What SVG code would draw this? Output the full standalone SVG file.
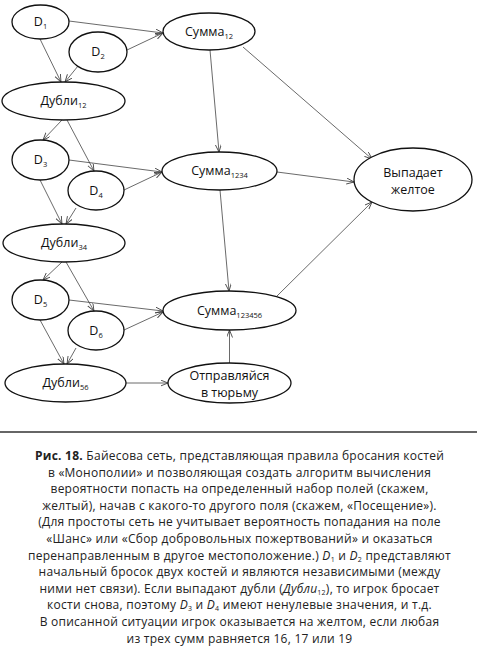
<svg xmlns="http://www.w3.org/2000/svg" width="477" height="648" viewBox="0 0 477 648">
<style>
.n{fill:#fff;stroke:#111;stroke-width:1.3}
.t{font-family:"Open Sans","Liberation Sans",sans-serif;font-size:12.5px;fill:#111;text-anchor:middle}
.s{font-size:7.5px}
.e{stroke:#444;stroke-width:0.8;fill:none;marker-end:url(#a)}
.c{font-family:"Open Sans","Noto Sans",sans-serif;font-size:12px;fill:#222;text-anchor:middle;letter-spacing:0.25px}
.cs{font-size:7px}
</style>
<defs>
<marker id="a" markerWidth="10" markerHeight="8" refX="7.5" refY="3" orient="auto" markerUnits="userSpaceOnUse">
<path d="M0,0 L7.5,3 L0,6" fill="none" stroke="#444" stroke-width="0.9"/>
</marker>
</defs>
<rect width="477" height="648" fill="#fff"/>
<g id="connectors">
<line class="e" x1="69" y1="21" x2="163" y2="33"/>
<line class="e" x1="127" y1="50" x2="163" y2="33"/>
<line class="e" x1="40" y1="39" x2="61" y2="82"/>
<line class="e" x1="78" y1="66" x2="65" y2="82"/>
<line class="e" x1="62" y1="120" x2="43" y2="140"/>
<line class="e" x1="67" y1="120" x2="94" y2="171"/>
<line class="e" x1="69" y1="160" x2="162" y2="172"/>
<line class="e" x1="124" y1="190" x2="162" y2="172"/>
<line class="e" x1="40" y1="180" x2="62" y2="224"/>
<line class="e" x1="76" y1="208" x2="66" y2="224"/>
<line class="e" x1="62" y1="262" x2="43" y2="280"/>
<line class="e" x1="66" y1="262" x2="94" y2="311"/>
<line class="e" x1="69" y1="300" x2="163" y2="311"/>
<line class="e" x1="124" y1="330" x2="163" y2="312"/>
<line class="e" x1="40" y1="320" x2="64" y2="364"/>
<line class="e" x1="76" y1="348" x2="67" y2="364"/>
<line class="e" x1="126" y1="383" x2="168" y2="383"/>
<line class="e" x1="229.5" y1="363" x2="229.5" y2="330"/>
<line class="e" x1="210" y1="50" x2="219" y2="152"/>
<line class="e" x1="243" y1="47" x2="372" y2="159"/>
<line class="e" x1="277" y1="172" x2="354" y2="182"/>
<line class="e" x1="220" y1="190" x2="229" y2="291"/>
<line class="e" x1="276" y1="297" x2="372" y2="202"/>
</g>
<g id="D1"><ellipse class="n" cx="40.5" cy="22" rx="28.5" ry="17"/><text class="t" x="40.5" y="26">D<tspan class="s" dy="3">1</tspan></text></g>
<g id="D2"><ellipse class="n" cx="98" cy="52" rx="29" ry="20"/><text class="t" x="98" y="56">D<tspan class="s" dy="3">2</tspan></text></g>
<g id="Dubli12"><ellipse class="n" cx="63.5" cy="101" rx="61.5" ry="19"/><text class="t" x="63.5" y="105">Дубли<tspan class="s" dy="3">12</tspan></text></g>
<g id="Summa12"><ellipse class="n" cx="209" cy="31.5" rx="46" ry="18.5"/><text class="t" x="209" y="36">Сумма<tspan class="s" dy="3">12</tspan></text></g>
<g id="D3"><ellipse class="n" cx="40.5" cy="160" rx="28.5" ry="20"/><text class="t" x="40.5" y="164">D<tspan class="s" dy="3">3</tspan></text></g>
<g id="D4"><ellipse class="n" cx="96" cy="190.5" rx="28" ry="19.5"/><text class="t" x="96" y="194.5">D<tspan class="s" dy="3">4</tspan></text></g>
<g id="Dubli34"><ellipse class="n" cx="64" cy="243" rx="61" ry="19"/><text class="t" x="64" y="247">Дубли<tspan class="s" dy="3">34</tspan></text></g>
<g id="Summa1234"><ellipse class="n" cx="219.5" cy="171" rx="57.5" ry="19"/><text class="t" x="219.5" y="175">Сумма<tspan class="s" dy="3">1234</tspan></text></g>
<g id="D5"><ellipse class="n" cx="40.5" cy="300" rx="28.5" ry="20"/><text class="t" x="40.5" y="304">D<tspan class="s" dy="3">5</tspan></text></g>
<g id="D6"><ellipse class="n" cx="96" cy="330.5" rx="28" ry="19.5"/><text class="t" x="96" y="334.5">D<tspan class="s" dy="3">6</tspan></text></g>
<g id="Dubli56"><ellipse class="n" cx="65.5" cy="383" rx="60.5" ry="19"/><text class="t" x="65.5" y="387">Дубли<tspan class="s" dy="3">56</tspan></text></g>
<g id="Summa123456"><ellipse class="n" cx="229.5" cy="310.5" rx="66.5" ry="19.5"/><text class="t" x="229.5" y="314.5">Сумма<tspan class="s" dy="3">123456</tspan></text></g>
<g id="Jail"><ellipse class="n" cx="229.5" cy="383" rx="61.5" ry="20"/><text class="t" x="229.5" y="380">Отправляйся</text><text class="t" x="229.5" y="397">в тюрьму</text></g>
<g id="Yellow"><ellipse class="n" cx="413" cy="179.5" rx="59" ry="31.5"/><text class="t" x="413" y="177">Выпадает</text><text class="t" x="413" y="194">желтое</text></g>
<line x1="0" y1="432" x2="477" y2="432" stroke="#666" stroke-width="2"/>
<g id="caption">
<text class="c" x="239.5" y="460"><tspan font-weight="bold">Рис. 18.</tspan> Байесова сеть, представляющая правила бросания костей</text>
<text class="c" x="239.5" y="476.6">в «Монополии» и позволяющая создать алгоритм вычисления</text>
<text class="c" x="239.5" y="493.2">вероятности попасть на определенный набор полей (скажем,</text>
<text class="c" x="239.5" y="509.8">желтый), начав с какого-то другого поля (скажем, «Посещение»).</text>
<text class="c" x="239.5" y="526.4">(Для простоты сеть не учитывает вероятность попадания на поле</text>
<text class="c" x="239.5" y="543">«Шанс» или «Сбор добровольных пожертвований» и оказаться</text>
<text class="c" x="239.5" y="559.6">перенаправленным в другое местоположение.) <tspan font-style="italic">D</tspan><tspan class="cs" dy="2">1</tspan><tspan dy="-2"> и </tspan><tspan font-style="italic">D</tspan><tspan class="cs" dy="2">2</tspan><tspan dy="-2"> представляют</tspan></text>
<text class="c" x="239.5" y="576.2">начальный бросок двух костей и являются независимыми (между</text>
<text class="c" x="239.5" y="592.8">ними нет связи). Если выпадают дубли (<tspan font-style="italic">Дубли</tspan><tspan class="cs" dy="2">12</tspan><tspan dy="-2">), то игрок бросает</tspan></text>
<text class="c" x="239.5" y="609.4">кости снова, поэтому <tspan font-style="italic">D</tspan><tspan class="cs" dy="2">3</tspan><tspan dy="-2"> и </tspan><tspan font-style="italic">D</tspan><tspan class="cs" dy="2">4</tspan><tspan dy="-2"> имеют ненулевые значения, и т.д.</tspan></text>
<text class="c" x="239.5" y="626">В описанной ситуации игрок оказывается на желтом, если любая</text>
<text class="c" x="239.5" y="642.6">из трех сумм равняется 16, 17 или 19</text>
</g>
</svg>
